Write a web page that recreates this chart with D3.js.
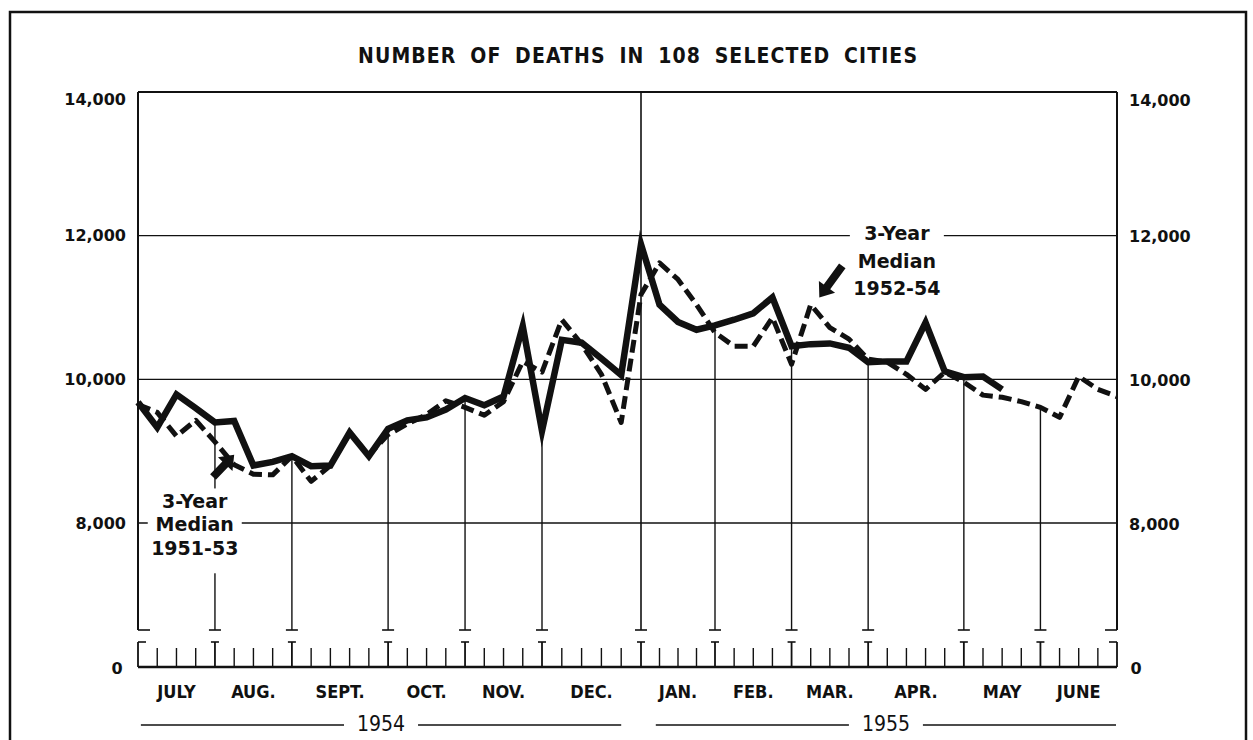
<!DOCTYPE html>
<html><head><meta charset="utf-8">
<script src="https://cdn.jsdelivr.net/npm/d3@7"></script>
<style>body{margin:0;background:#fff} svg{display:block}</style>
</head><body><svg id="c" width="1253" height="740"></svg>
<script>
// ---------------- data ----------------
const deaths1954_55 = [9680,9330,9790,9600,9400,9420,8800,8850,8930,8790,8800,9260,8930,9310,9430,9470,9580,9740,9640,9760,10740,9280,10550,10510,10290,10060,11880,11040,10800,10690,10750,10830,10920,11140,10460,10490,10500,10440,10240,10250,10250,10790,10110,10030,10040,9860];
const median3yr = [9650,9540,9210,9430,9130,8810,8680,8670,8930,8580,8800,9250,8950,9230,9380,9510,9700,9610,9500,9690,10250,10100,10830,10490,10070,9400,11180,11620,11390,11040,10650,10460,10460,10860,10210,11040,10720,10560,10280,10240,10070,9860,10100,9960,9780,9750,9690,9610,9470,10040,9860,9760];
const yTickValues = [8000, 10000, 12000, 14000];
const yTickLabels = ["8,000", "10,000", "12,000", "14,000"];
const monthBounds = [0,4,8,13,17,21,26,30,34,38,43,47,51];
const monthNames = ["JULY","AUG.","SEPT.","OCT.","NOV.","DEC.","JAN.","FEB.","MAR.","APR.","MAY","JUNE"];
const yearLabels = ["1954","1955"];
const yearSpans = [[0.15,25.0],[26.8,50.95]];
const titleText = "NUMBER OF DEATHS IN 108 SELECTED CITIES";
const annotations = [
  {lines:["3-Year","Median","1951-53"], week:2.95, value:[8300,7985,7655], tail:[3.9,8640], tip:[5.0,8950], boxBottom:7300},
  {lines:["3-Year","Median","1952-54"], week:39.5, value:[12040,11650,11270], tail:[36.65,11580], tip:[35.45,11140], boxBottom:11100}
];

// ---------------- layout ----------------
const svg = d3.select("#c");
const x = d3.scaleLinear().domain([0,21,26,30,51]).range([138,542,641,715,1117]);
const y = d3.scaleLinear().domain([8000,14000]).range([523,92]);
const yBreak = 630, yBase = 667, yCap = 642, yWeek = 648;
const FB = "'DejaVu Sans', sans-serif";

// outer border
svg.append("rect").attr("x",10).attr("y",12).attr("width",1236).attr("height",760)
  .attr("fill","none").attr("stroke","#111").attr("stroke-width",2.5);

// title
svg.append("text").attr("x",358).attr("y",56)
  .attr("text-anchor","start").attr("dominant-baseline","central")
  .style("font-family",FB).style("font-weight","bold").style("font-stretch","condensed")
  .style("font-size","21px").style("word-spacing","6px")
  .attr("textLength",559).attr("lengthAdjust","spacing")
  .attr("fill","#111").text(titleText);

const g = svg.append("g");
// gridlines (top frame at 14000)
g.selectAll("line.grid").data(yTickValues).join("line")
  .attr("x1",x(0)).attr("x2",x(51)).attr("y1",d=>y(d)).attr("y2",d=>y(d))
  .attr("stroke","#111").attr("stroke-width",d=>d===14000?2:1.4);

// frame verticals + year divider
[0,26,51].forEach(b=>{
  g.append("line").attr("x1",x(b)).attr("x2",x(b)).attr("y1",y(14000)).attr("y2",yBreak)
   .attr("stroke","#111").attr("stroke-width",b===26?1.6:2);
});
// drop lines to the current-year curve
monthBounds.filter(b=>b!==0&&b!==26&&b!==51).forEach(b=>{
  const v = b < deaths1954_55.length ? deaths1954_55[b] : median3yr[b];
  g.append("line").attr("x1",x(b)).attr("x2",x(b)).attr("y1",y(v)).attr("y2",yBreak)
   .attr("stroke","#111").attr("stroke-width",1.4);
});
// break dashes
monthBounds.forEach(b=>{
  const x0 = b===0 ? x(b) : b===51 ? x(b)-12 : x(b)-6;
  g.append("line").attr("x1",x0).attr("x2",x0+12).attr("y1",yBreak).attr("y2",yBreak)
   .attr("stroke","#111").attr("stroke-width",1.6);
});
// weekly ticks
d3.range(52).forEach(i=>{
  const isM = monthBounds.includes(i);
  g.append("line").attr("x1",x(i)).attr("x2",x(i)).attr("y1",isM?yCap:yWeek).attr("y2",yBase)
   .attr("stroke","#111").attr("stroke-width",isM?1.8:1.4);
  if(isM){
    const x0 = i===0 ? x(i) : i===51 ? x(i)-8 : x(i)-4;
    g.append("line").attr("x1",x0).attr("x2",x0+8).attr("y1",yCap).attr("y2",yCap)
     .attr("stroke","#111").attr("stroke-width",1.6);
  }
});
// baseline
g.append("line").attr("x1",x(0)).attr("x2",x(51)).attr("y1",yBase).attr("y2",yBase)
  .attr("stroke","#111").attr("stroke-width",2.5);

// y labels
const lab = svg.append("g").style("font-family",FB).style("font-weight","bold")
  .style("font-size","16px").attr("fill","#111");
yTickValues.forEach((v,k)=>{
  const yy = v===14000 ? y(v)+7 : y(v);
  lab.append("text").attr("x",126).attr("y",yy).attr("text-anchor","end")
    .attr("dominant-baseline","central").text(yTickLabels[k]);
  lab.append("text").attr("x",1129).attr("y",yy+1).attr("text-anchor","start")
    .attr("dominant-baseline","central").text(yTickLabels[k]);
});
lab.append("text").attr("x",117).attr("y",yBase+1).attr("text-anchor","middle").attr("dominant-baseline","central").text("0");
lab.append("text").attr("x",1136).attr("y",yBase+1).attr("text-anchor","middle").attr("dominant-baseline","central").text("0");

// month labels
const ml = svg.append("g").style("font-family",FB).style("font-weight","bold")
  .style("font-stretch","condensed").style("font-size","18px").attr("fill","#111");
monthNames.forEach((m,k)=>{
  ml.append("text").attr("x",(x(monthBounds[k])+x(monthBounds[k+1]))/2).attr("y",691)
    .attr("text-anchor","middle").attr("dominant-baseline","central").text(m);
});
// year labels
yearSpans.forEach((s,k)=>{
  const a = x(s[0]), b = x(s[1]), c = (a+b)/2;
  svg.append("line").attr("x1",a).attr("x2",c-37).attr("y1",725).attr("y2",725).attr("stroke","#111").attr("stroke-width",1.6);
  svg.append("line").attr("x1",c+37).attr("x2",b).attr("y1",725).attr("y2",725).attr("stroke","#111").attr("stroke-width",1.6);
  svg.append("text").attr("x",c).attr("y",724).attr("text-anchor","middle").attr("dominant-baseline","central")
    .style("font-family",FB).style("font-stretch","condensed").style("font-size","21px").attr("fill","#111").text(yearLabels[k]);
});

// annotation backgrounds
annotations.forEach(a=>{
  const cx = x(a.week);
  const y0 = y(a.value[0]) - 13, y1 = y(a.boxBottom);
  svg.append("rect").attr("x",cx-47).attr("y",y0).attr("width",94).attr("height",y1-y0).attr("fill","#fff");
});

// series
const lineGen = d3.line().x((d,i)=>x(i)).y(d=>y(d)).curve(d3.curveLinear);
svg.append("path").datum(median3yr).attr("d",lineGen).attr("fill","none")
  .attr("stroke","#111").attr("stroke-width",5).attr("stroke-dasharray","13,6")
  .attr("stroke-linejoin","round");
svg.append("path").datum(deaths1954_55).attr("d",lineGen).attr("fill","none")
  .attr("stroke","#111").attr("stroke-width",6.5).attr("stroke-linejoin","miter").attr("stroke-miterlimit",6);

// annotation texts + arrows
annotations.forEach(a=>{
  const cx = x(a.week);
  a.lines.forEach((t,k)=>{
    svg.append("text").attr("x",cx).attr("y",y(a.value[k])).attr("text-anchor","middle")
      .attr("dominant-baseline","central").style("font-family",FB).style("font-weight","bold")
      .style("font-size","19px").attr("fill","#111").text(t);
  });
  const tx = x(a.tail[0]), ty = y(a.tail[1]), px = x(a.tip[0]), py = y(a.tip[1]);
  const L = Math.hypot(px-tx, py-ty), ang = Math.atan2(py-ty, px-tx)*180/Math.PI;
  const hl = 13, sw = 4, hw = 10;
  svg.append("path").attr("transform",`translate(${tx},${ty}) rotate(${ang})`)
    .attr("d",`M0,${-sw} L${L-hl},${-sw} L${L-hl},${-hw} L${L},0 L${L-hl},${hw} L${L-hl},${sw} L0,${sw} Z`)
    .attr("fill","#111");
});
</script></body></html>
